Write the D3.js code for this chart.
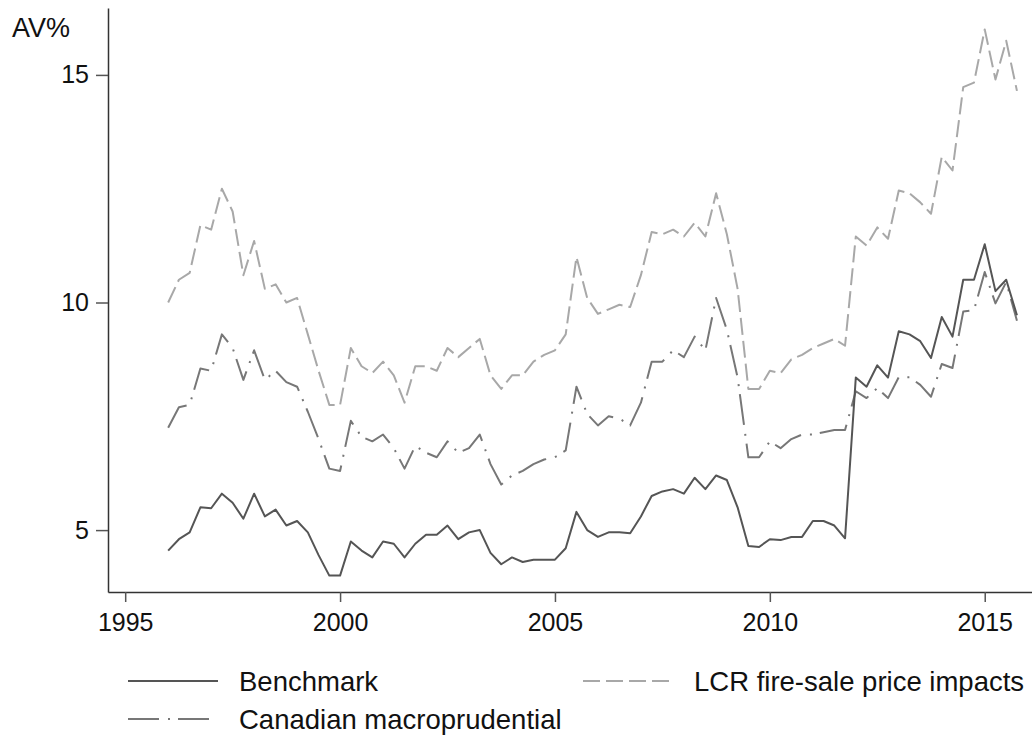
<!DOCTYPE html>
<html>
<head>
<meta charset="utf-8">
<script src="https://cdn.jsdelivr.net/npm/d3@7"></script>
<style>
  body { margin: 0; background: #fff; }
  svg { display: block; font-family: "Liberation Sans", Arial, sans-serif; }
</style>
</head>
<body>
<div class="chart"></div>
<script>
// quarterly, 1996Q1 .. 2015Q4
const startYear = 1996;
const benchmark = [
  4.55, 4.8, 4.95, 5.5, 5.48, 5.8, 5.6, 5.25, 5.8, 5.3, 5.45, 5.1, 5.2, 4.95, 4.45, 4.0,
  4.0, 4.75, 4.55, 4.4, 4.75, 4.7, 4.4, 4.7, 4.9, 4.9, 5.1, 4.8, 4.95, 5.0, 4.5, 4.25,
  4.4, 4.3, 4.35, 4.35, 4.35, 4.6, 5.4, 5.0, 4.85, 4.95, 4.95, 4.93, 5.3, 5.75, 5.85, 5.9,
  5.8, 6.15, 5.9, 6.2, 6.1, 5.5, 4.65, 4.63, 4.8, 4.78, 4.85, 4.85, 5.2, 5.2, 5.1, 4.82,
  8.35, 8.15, 8.62, 8.35, 9.37, 9.3, 9.15, 8.78, 9.68, 9.25, 10.5, 10.5, 11.28, 10.25, 10.5, 9.72
];
const canadian = [
  7.25, 7.7, 7.75, 8.55, 8.5, 9.3, 9.0, 8.3, 8.95, 8.3, 8.5, 8.25, 8.15, 7.6, 7.0, 6.35,
  6.3, 7.4, 7.05, 6.95, 7.1, 6.8, 6.35, 6.85, 6.7, 6.6, 6.95, 6.7, 6.8, 7.1, 6.45, 6.0,
  6.2, 6.3, 6.45, 6.55, 6.6, 6.75, 8.15, 7.55, 7.3, 7.5, 7.45, 7.3, 7.8, 8.7, 8.7, 8.95,
  8.8, 9.25, 8.95, 10.1, 9.4, 8.35, 6.6, 6.6, 6.95, 6.8, 7.0, 7.1, 7.1, 7.15, 7.2, 7.2,
  8.05, 7.9, 8.12, 7.9, 8.36, 8.36, 8.19, 7.93, 8.65, 8.56, 9.8, 9.83, 10.67, 9.98, 10.45, 9.6
];
const lcr = [
  10.0, 10.5, 10.65, 11.7, 11.6, 12.5, 12.0, 10.6, 11.35, 10.3, 10.4, 10.0, 10.1, 9.3, 8.5, 7.75,
  7.75, 9.0, 8.6, 8.45, 8.7, 8.4, 7.8, 8.6, 8.6, 8.5, 9.0, 8.8, 9.0, 9.2, 8.4, 8.1,
  8.4, 8.4, 8.7, 8.85, 8.95, 9.3, 11.0, 10.1, 9.75, 9.85, 9.95, 9.9, 10.6, 11.55, 11.5, 11.6,
  11.45, 11.75, 11.45, 12.4, 11.5, 10.3, 8.1, 8.1, 8.5, 8.45, 8.75, 8.85, 9.0, 9.1, 9.2, 9.05,
  11.45, 11.25, 11.65, 11.4, 12.46, 12.4, 12.2, 11.95, 13.2, 12.9, 14.73, 14.83, 16.0, 14.9, 15.75, 14.65
];
const xTicks = [1995, 2000, 2005, 2010, 2015];
const yTicks = [5, 10, 15];

const series = [
  { name: "Benchmark", values: benchmark, color: "#555555", dash: null, width: 2 },
  { name: "Canadian macroprudential", values: canadian, color: "#777777", dash: "31,9,2,8", width: 2 },
  { name: "LCR fire-sale price impacts", values: lcr, color: "#a8a8a8", dash: "17,6", width: 2 }
];

const width = 1032, height = 736;
const margin = { top: 8, right: 0, bottom: 144, left: 108 };

const svg = d3.select(".chart").append("svg")
  .attr("width", width)
  .attr("height", height);

const x = d3.scaleLinear()
  .domain([1994.6, 2016.1])
  .range([margin.left, width - margin.right]);

const y = d3.scaleLinear()
  .domain([3.64, 16.47])
  .range([height - margin.bottom, margin.top]);

const line = d3.line()
  .x((d, i) => x(startYear + i / 4))
  .y(d => y(d));

series.slice().reverse().forEach(s => {
  svg.append("path")
    .datum(s.values)
    .attr("fill", "none")
    .attr("stroke", s.color)
    .attr("stroke-width", s.width)
    .attr("stroke-dasharray", s.dash)
    .attr("stroke-linejoin", "round")
    .attr("d", line);
});

const xAxis = svg.append("g")
  .attr("transform", "translate(0," + (height - margin.bottom) + ")")
  .call(d3.axisBottom(x).tickValues(xTicks).tickFormat(d3.format("d"))
    .tickSize(10).tickPadding(11).tickSizeOuter(0));

const yAxis = svg.append("g")
  .attr("transform", "translate(" + margin.left + ",0)")
  .call(d3.axisLeft(y).tickValues(yTicks).tickSize(12).tickPadding(7).tickSizeOuter(0));

[xAxis, yAxis].forEach(g => {
  g.select(".domain").attr("stroke", "#333").attr("stroke-width", 1.5);
  g.selectAll(".tick line").attr("stroke", "#555").attr("stroke-width", 1.5);
  g.selectAll(".tick text").attr("fill", "#111").style("font-size", "25px")
    .style("font-family", "'Liberation Sans', Arial, sans-serif");
});

svg.append("text")
  .attr("x", 12)
  .attr("y", 37)
  .attr("fill", "#111")
  .style("font-size", "27px")
  .text("AV%");

// legend
const legendPos = [
  { x: 128, y: 681 },
  { x: 128, y: 719 },
  { x: 583, y: 681 }
];
series.forEach((s, i) => {
  const p = legendPos[i];
  svg.append("line")
    .attr("x1", p.x).attr("x2", p.x + 90)
    .attr("y1", p.y).attr("y2", p.y)
    .attr("stroke", s.color)
    .attr("stroke-width", s.width)
    .attr("stroke-dasharray", s.dash);
  svg.append("text")
    .attr("x", p.x + 111)
    .attr("y", p.y)
    .attr("dy", "0.35em")
    .attr("fill", "#111")
    .style("font-size", "27.5px")
    .text(s.name);
});
</script>
</body>
</html>
